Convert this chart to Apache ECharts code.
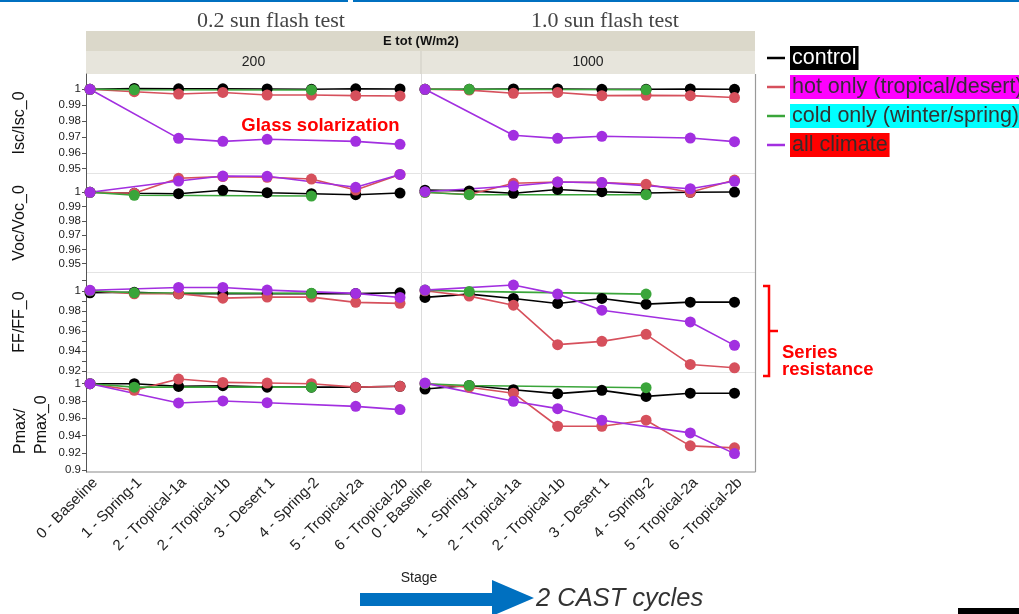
<!DOCTYPE html>
<html>
<head>
<meta charset="utf-8">
<script src="https://cdn.jsdelivr.net/npm/echarts@6/dist/echarts.min.js"></script>
<style>html,body{margin:0;padding:0;background:#fff}#c{width:1019px;height:614px}</style>
</head>
<body>
<div id="c"></div>
<script>
// ---------- data ----------
const stages = ['0 - Baseline','1 - Spring-1','2 - Tropical-1a','2 - Tropical-1b','3 - Desert 1','4 - Spring-2','5 - Tropical-2a','6 - Tropical-2b'];
const irradiance = ['200','1000'];
const seriesNames = ['control','hot only (tropical/desert)','cold only (winter/spring)','all climate'];
const metricNames = ['Isc/Isc_0','Voc/Voc_0','FF/FF_0','Pmax/\nPmax_0'];

// each panel: [control, hot only, cold only, all climate]
const isc_200 = [
  [1.0, 1.0005, 1.0003, 1.0003, 1.0002, 1.0, 1.0003, 1.0002],
  [1.0, 0.9985, 0.997, 0.998, 0.9964, 0.9964, 0.996, 0.9958],
  [1.0, 0.9997, null, null, null, 0.9996, null, null],
  [1.0, null, 0.9691, 0.9672, 0.9685, null, 0.9672, 0.9653]
];
const isc_1000 = [
  [1.0, 1.0, 1.0002, 1.0002, 1.0, 1.0, 1.0002, 1.0],
  [1.0, 0.9995, 0.9975, 0.998, 0.996, 0.9962, 0.996, 0.9948],
  [1.0, 1.0, null, null, null, 0.9997, null, null],
  [1.0, null, 0.971, 0.9691, 0.9704, null, 0.9693, 0.967]
];
const voc_200 = [
  [1.0, 0.9993, 0.999, 1.0014, 0.9997, 0.999, 0.9983, 0.9995],
  [1.0, 0.9993, 1.0098, 1.011, 1.0105, 1.0093, 1.0016, 1.0125],
  [1.0, 0.9979, null, null, null, 0.9974, null, null],
  [1.0, null, 1.0079, 1.0114, 1.0112, null, 1.0035, 1.0125]
];
const voc_1000 = [
  [1.0015, 1.001, 0.9993, 1.002, 1.0004, 0.9995, 1.0, 1.0002],
  [1.0, 0.9985, 1.0063, 1.0072, 1.0068, 1.0056, 1.0, 1.0086],
  [1.0, 0.9983, null, null, null, 0.9983, null, null],
  [1.0004, null, 1.0044, 1.0072, 1.0068, null, 1.0025, 1.0077]
];
const ff_200 = [
  [0.998, 0.9985, 0.997, 0.9972, 0.997, 0.9972, 0.9972, 0.998],
  [1.0, 0.997, 0.997, 0.9927, 0.9937, 0.9937, 0.9885, 0.9875],
  [1.0, 0.998, null, null, null, 0.9975, null, null],
  [1.0005, null, 1.0033, 1.0033, 1.0007, null, 0.9974, 0.9934]
];
const ff_1000 = [
  [0.9934, 0.9967, 0.9924, 0.9874, 0.9924, 0.9867, 0.9887, 0.9887],
  [1.0, 0.9947, 0.9857, 0.9464, 0.9497, 0.9567, 0.9267, 0.9234],
  [1.0007, 0.9994, null, null, null, 0.9967, null, null],
  [1.0007, null, 1.0057, 0.9967, 0.9807, null, 0.969, 0.9457]
];
const pmax_200 = [
  [1.0, 1.0, 0.9969, 0.9977, 0.996, 0.996, 0.996, 0.997],
  [1.0, 0.9923, 1.0054, 1.0015, 1.0008, 1.0, 0.996, 0.997],
  [1.0, 0.996, null, null, null, 0.996, null, null],
  [1.0, null, 0.9777, 0.98, 0.978, null, 0.9738, 0.970]
];
const pmax_1000 = [
  [0.9938, 0.998, 0.993, 0.9885, 0.9923, 0.9853, 0.989, 0.989],
  [1.0, 0.996, 0.989, 0.9507, 0.9507, 0.9577, 0.928, 0.9257],
  [1.0, 0.998, null, null, null, 0.9954, null, null],
  [1.0007, null, 0.9796, 0.9711, 0.9577, null, 0.943, 0.919]
];

// tick labels (and tick marks)
const iscTicks = [0.95, 0.96, 0.97, 0.98, 0.99, 1];
const vocTicks = [0.95, 0.96, 0.97, 0.98, 0.99, 1];
const ffTicks = [0.92, 0.94, 0.96, 0.98, 1];
const ffTickMarks = [0.92, 0.93, 0.94, 0.95, 0.96, 0.97, 0.98, 0.99, 1, 1.01];
const pmaxTicks = [0.9, 0.92, 0.94, 0.96, 0.98, 1];

// ---------- layout / style ----------
const colors = ['#000000', '#d6505c', '#3aa53a', '#a22fe0'];
const FONT = 'Liberation Sans, Arial, Helvetica, sans-serif';
const rows = [
  {panels: [isc_200, isc_1000], ticks: iscTicks, marks: iscTicks, min: 0.94694, max: 1.00964, top: 74, height: 99.5},
  {panels: [voc_200, voc_1000], ticks: vocTicks, marks: vocTicks, min: 0.94349, max: 1.01317, top: 173.5, height: 99.5},
  {panels: [ff_200, ff_1000], ticks: ffTicks, marks: ffTickMarks, min: 0.9187, max: 1.0177, top: 273, height: 99.5},
  {panels: [pmax_200, pmax_1000], ticks: pmaxTicks, marks: pmaxTicks, min: 0.8977, max: 1.0130, top: 372.5, height: 99.5}
];
const cols = [{left: 90, width: 310}, {left: 425, width: 309.5}];

const grids = [], xAxes = [], yAxes = [], series = [];
rows.forEach((r, ri) => {
  cols.forEach((c, ci) => {
    const gi = grids.length;
    grids.push({left: c.left, top: r.top, width: c.width, height: r.height, containLabel: false});
    const bottom = ri === rows.length - 1;
    xAxes.push({
      type: 'category', gridIndex: gi, data: stages, boundaryGap: false,
      show: bottom,
      axisLine: {show: false}, axisTick: {show: false}, splitLine: {show: false},
      axisLabel: {show: bottom, interval: 0, rotate: 45, margin: 3, verticalAlign: 'top',
        fontSize: 15, color: '#222', fontFamily: FONT}
    });
    const showY = ci === 0;
    yAxes.push({
      type: 'value', gridIndex: gi, min: r.min, max: r.max, show: showY,
      offset: 4,
      splitLine: {show: false},
      axisLine: {show: showY, lineStyle: {color: '#555', width: 1}},
      axisTick: {show: showY, length: 4, customValues: r.marks, lineStyle: {color: '#555'}},
      axisLabel: {show: showY, customValues: r.ticks, fontSize: 11.5, color: '#222', fontFamily: FONT, margin: 5,
        formatter: v => String(+(+v).toFixed(3))}
    });
    const panel = r.panels[ci];
    panel.forEach((vals, si) => {
      series.push({
        name: seriesNames[si], type: 'line', xAxisIndex: gi, yAxisIndex: gi,
        data: vals, connectNulls: true, symbol: 'circle', symbolSize: 11,
        showSymbol: true, animation: false,
        lineStyle: {color: colors[si], width: 1.6},
        itemStyle: {color: colors[si]},
        emphasis: {disabled: true}
      });
    });
  });
});

const lineEl = (x1, y1, x2, y2, stroke, w) => ({type: 'line', silent: true, shape: {x1, y1, x2, y2}, style: {stroke, lineWidth: w || 1}});
const textEl = (x, y, text, st) => ({type: 'text', silent: true, x, y, style: Object.assign({text, fontFamily: FONT, fill: '#222', align: 'center', verticalAlign: 'middle'}, st)});

const graphic = [
  {type: 'rect', silent: true, shape: {x: 0, y: 0, width: 348, height: 2}, style: {fill: '#0070c0'}},
  {type: 'rect', silent: true, shape: {x: 353, y: 0, width: 666, height: 2}, style: {fill: '#0070c0'}},
  textEl(271, 21, '0.2 sun flash test', {fontFamily: 'Liberation Serif, Times New Roman, serif', fontSize: 22, fill: '#454545'}),
  textEl(605, 21, '1.0 sun flash test', {fontFamily: 'Liberation Serif, Times New Roman, serif', fontSize: 22, fill: '#454545'}),
  {type: 'rect', silent: true, shape: {x: 86, y: 31, width: 669, height: 20}, style: {fill: '#dbd8ca'}},
  {type: 'rect', silent: true, shape: {x: 86, y: 51, width: 669, height: 23}, style: {fill: '#e7e5dc'}},
  lineEl(421, 51, 421, 74, '#cfcdc4', 1),
  textEl(421, 41.5, 'E tot (W/m2)', {fontSize: 13, fontWeight: 'bold', fill: '#111'}),
  textEl(253.5, 62.5, '200', {fontSize: 14, fill: '#222'}),
  textEl(588, 62.5, '1000', {fontSize: 14, fill: '#222'}),
  // panel frame lines
  lineEl(421.5, 74, 421.5, 472, '#dcdcdc', 1),
  lineEl(86, 173.5, 755, 173.5, '#e4e4e4', 1),
  lineEl(86, 272.5, 755, 272.5, '#e4e4e4', 1),
  lineEl(86, 372.5, 755, 372.5, '#e4e4e4', 1),
  lineEl(86, 472, 755.5, 472, '#8a8a8a', 1.2),
  lineEl(755.5, 74, 755.5, 472, '#9a9a9a', 1.2),
  // y axis names
  {type: 'text', silent: true, x: 20, y: 123, rotation: Math.PI / 2, style: {text: metricNames[0], fontFamily: FONT, fontSize: 16, fill: '#111', align: 'center', verticalAlign: 'middle'}},
  {type: 'text', silent: true, x: 20, y: 223, rotation: Math.PI / 2, style: {text: metricNames[1], fontFamily: FONT, fontSize: 16, fill: '#111', align: 'center', verticalAlign: 'middle'}},
  {type: 'text', silent: true, x: 20, y: 322, rotation: Math.PI / 2, style: {text: metricNames[2], fontFamily: FONT, fontSize: 16, fill: '#111', align: 'center', verticalAlign: 'middle'}},
  {type: 'text', silent: true, x: 31, y: 454, rotation: Math.PI / 2, style: {text: metricNames[3], fontFamily: FONT, fontSize: 16, lineHeight: 21, fill: '#111', align: 'left', verticalAlign: 'middle'}},
  // annotations
  textEl(320.5, 125.5, 'Glass solarization', {fontSize: 18.5, fontWeight: 'bold', fill: '#ff0000'}),
  {type: 'polyline', silent: true, shape: {points: [[763, 286], [769, 286], [769, 376], [763, 376]]}, style: {stroke: '#ff0000', lineWidth: 2.5, fill: null}},
  lineEl(769, 331, 778, 331, '#ff0000', 2.5),
  {type: 'text', silent: true, x: 782, y: 361, style: {text: 'Series\nresistance', fontFamily: FONT, fontSize: 18.5, fontWeight: 'bold', lineHeight: 17, fill: '#ff0000', align: 'left', verticalAlign: 'middle'}},
  textEl(419, 578, 'Stage', {fontSize: 14, fill: '#222'}),
  {type: 'polygon', silent: true, shape: {points: [[360, 593], [492, 593], [492, 580], [534, 598], [492, 616], [492, 606], [360, 606]]}, style: {fill: '#0070c0'}},
  textEl(536, 599, '2 CAST cycles', {fontSize: 25.5, fontStyle: 'italic', fill: '#333', align: 'left'}),
  {type: 'rect', silent: true, shape: {x: 958, y: 608, width: 61, height: 6}, style: {fill: '#000'}}
];

const legendStyles = [
  {backgroundColor: '#000000', color: '#ffffff'},
  {backgroundColor: '#ff00ff', color: '#3a2a3a'},
  {backgroundColor: '#00ffff', color: '#333333'},
  {backgroundColor: '#ff0000', color: '#3a2a2a'}
];

const chart = echarts.init(document.getElementById('c'), null, {renderer: 'canvas'});
chart.setOption({
  animation: false,
  backgroundColor: '#ffffff',
  grid: grids, xAxis: xAxes, yAxis: yAxes, series: series,
  legend: {
    orient: 'vertical', left: 762, top: 41, itemGap: 5, itemWidth: 18, itemHeight: 2.5, icon: 'rect',
    selectedMode: false,
    textStyle: {fontSize: 21.5, fontFamily: FONT, padding: [1, 2], lineHeight: 22},
    data: seriesNames.map((n, i) => ({name: n, textStyle: legendStyles[i]}))
  },
  graphic: graphic
});
</script>
</body>
</html>
